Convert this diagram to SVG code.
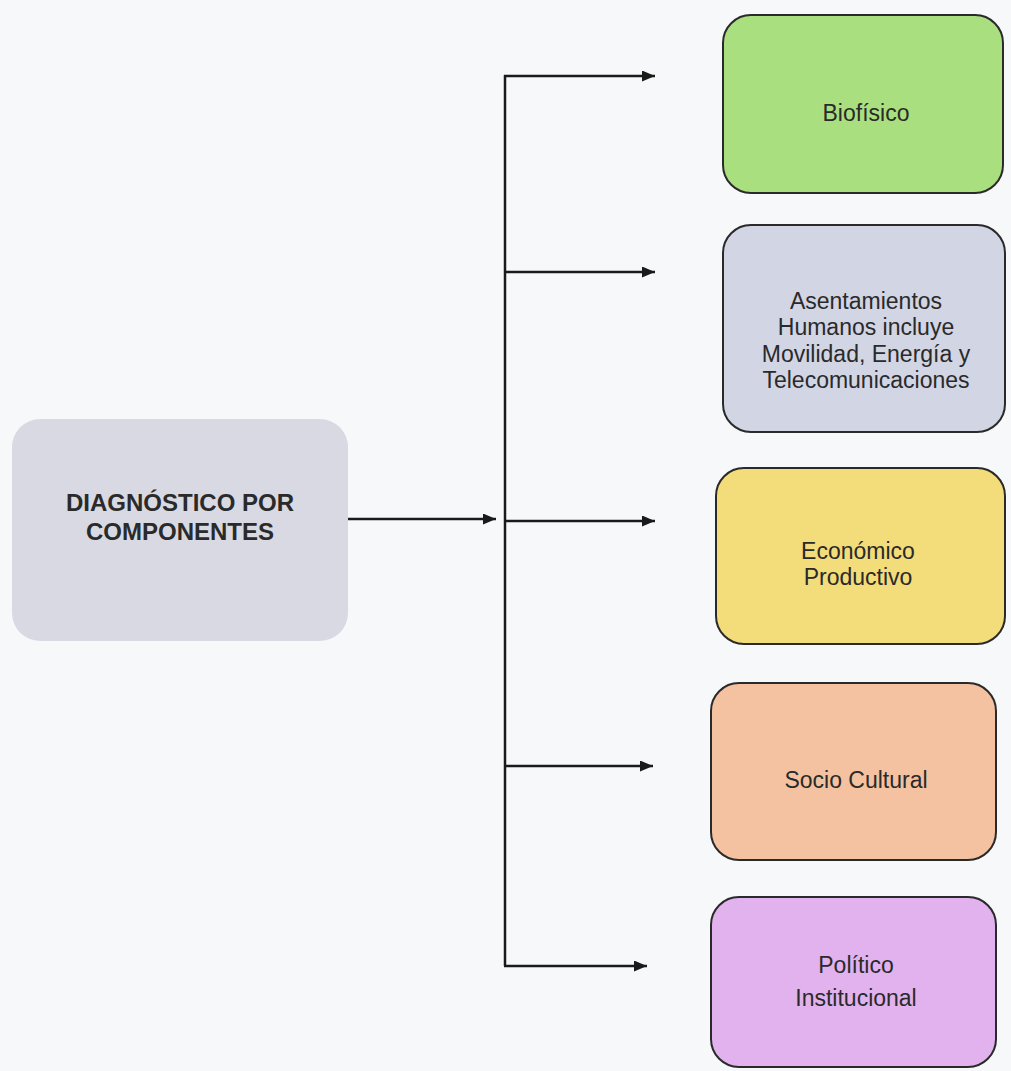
<svg xmlns="http://www.w3.org/2000/svg" width="1011" height="1071" viewBox="0 0 1011 1071">
<defs>
<marker id="ah" viewBox="0 0 10 10" refX="10" refY="5" markerWidth="13" markerHeight="11" markerUnits="userSpaceOnUse" orient="auto" preserveAspectRatio="none">
<path d="M0,0 L10,5 L0,10 z" fill="#1a1a1a"/>
</marker>
<style>
.box{stroke:#2a2a2a;stroke-width:2}
.t{font-family:"Liberation Sans",Arial,sans-serif;font-size:23px;fill:#2a2a2a;text-anchor:middle}
.b{font-weight:bold;font-size:24px}
.c{stroke:#1a1a1a;stroke-width:2.5;fill:none}
.a{marker-end:url(#ah)}
</style>
</defs>
<rect width="1011" height="1071" fill="#f7f8fa"/>
<g id="diagnostico">
<rect x="12" y="419" width="336" height="222" rx="28" fill="#d8d9e2"/>
<text class="t b" x="180" y="511">DIAGNÓSTICO POR</text>
<text class="t b" x="180" y="540">COMPONENTES</text>
</g>
<g id="biofisico">
<rect class="box" x="723" y="15" width="280" height="178" rx="28" fill="#a9df7f"/>
<text class="t" x="866" y="121">Biofísico</text>
</g>
<g id="asentamientos">
<rect class="box" x="723" y="225" width="282" height="207" rx="28" fill="#d2d5e4"/>
<text class="t" x="866" y="309">Asentamientos</text>
<text class="t" x="866" y="335">Humanos incluye</text>
<text class="t" x="866" y="362">Movilidad, Energía y</text>
<text class="t" x="866" y="388">Telecomunicaciones</text>
</g>
<g id="economico">
<rect class="box" x="716" y="468" width="289" height="176" rx="28" fill="#f3dc7a"/>
<text class="t" x="858" y="559">Económico</text>
<text class="t" x="858" y="585">Productivo</text>
</g>
<g id="sociocultural">
<rect class="box" x="711" y="683" width="285" height="177" rx="28" fill="#f4c2a0"/>
<text class="t" x="856" y="788">Socio Cultural</text>
</g>
<g id="politico">
<rect class="box" x="711" y="897" width="285" height="170" rx="28" fill="#e2b2ef"/>
<text class="t" x="856" y="973">Político</text>
<text class="t" x="856" y="1006">Institucional</text>
</g>
<g id="connectors">
<line class="c a" x1="348" y1="519" x2="496" y2="519"/>
<line class="c" x1="505" y1="75" x2="505" y2="966"/>
<line class="c a" x1="504" y1="76" x2="655" y2="76"/>
<line class="c a" x1="505" y1="272" x2="655" y2="272"/>
<line class="c a" x1="505" y1="521" x2="655" y2="521"/>
<line class="c a" x1="505" y1="766" x2="653" y2="766"/>
<line class="c a" x1="504" y1="966" x2="647" y2="966"/>
</g>
</svg>
